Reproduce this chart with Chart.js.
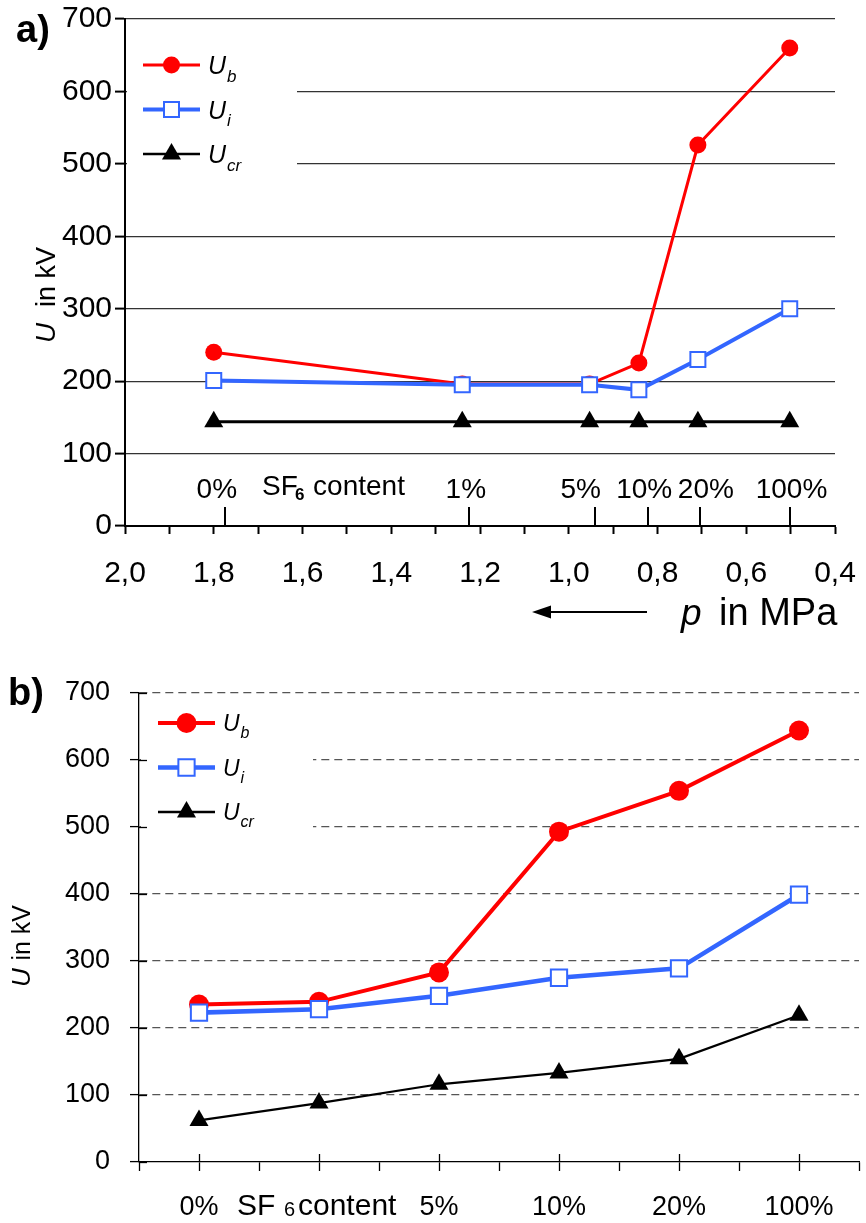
<!DOCTYPE html>
<html>
<head>
<meta charset="utf-8">
<title>Breakdown voltage vs. pressure and SF6 content</title>
<script src="https://cdn.jsdelivr.net/npm/chart.js@4.4.1/dist/chart.umd.min.js"></script>
<style>
  html, body { margin: 0; padding: 0; background: #fff; overflow: hidden; }
  canvas { display: block; }
</style>
</head>
<body>
<canvas id="chartA" width="866" height="640"></canvas>
<!-- a little wider than the page: the point overflow margin sits off-screen -->
<canvas id="chartB" width="873" height="583"></canvas>
<script>
// a) voltages over gas pressure (MPa)
const pressureA = [1.80, 1.24, 0.953, 0.842, 0.709, 0.502];
const ubA = [240, 196, 196, 225, 526, 660];
const uiA = [201, 195, 195, 188, 230, 300];
const ucrA = [144, 144, 144, 144, 144, 144];
// SF6 content markers along the pressure axis
const contentLabelsA = ['0%', '1%', '5%', '10%', '20%', '100%'];
const contentTickP = [1.775, 1.225, 0.941, 0.822, 0.705, 0.502];
const contentLabelP = [1.793, 1.232, 0.973, 0.830, 0.691, 0.498];

// b) voltages over SF6 content
const contentB = ['0%', '', '5%', '10%', '20%', '100%'];
const ubB = [235, 239, 283, 493, 554, 644];
const uiB = [223, 228, 248, 275, 289, 399];
const ucrB = [62, 88, 116, 133, 154, 219];

const yTicks = [0, 700, 100]; // min, max, step

const FONT = "'Liberation Sans', Arial, Helvetica, sans-serif";
const RED = '#ff0000';
const BLUE = '#3366ff';
const BLACK = '#000000';

function pts(xs, ys) {
  return ys.map((y, i) => ({ x: xs[i], y }));
}

// keep the plot area where the layout padding puts it
function fixBox(size) {
  return s => {
    if (s.isHorizontal()) s.height = size; else s.width = size;
    s.paddingLeft = s.paddingRight = s.paddingTop = s.paddingBottom = 0;
  };
}

function makeSets(xs, ub, ui, ucr, s) {
  return [
    { label: 'Ub', data: pts(xs, ub), borderColor: RED, backgroundColor: RED,
      borderWidth: s.ubW, pointStyle: 'circle', pointRadius: s.circR, pointBorderWidth: 0,
      pointBackgroundColor: RED, order: 1 },
    { label: 'Ui', data: pts(xs, ui), borderColor: BLUE, backgroundColor: '#fff',
      borderWidth: s.uiW, pointStyle: 'rect', pointRadius: s.rectR, pointBorderWidth: 2,
      pointBorderColor: BLUE, pointBackgroundColor: '#fff', order: 0 },
    { label: 'Ucr', data: pts(xs, ucr), borderColor: BLACK, backgroundColor: BLACK,
      borderWidth: s.ucrW, pointStyle: 'triangle', pointRadius: s.triR, pointBorderWidth: 0,
      pointBackgroundColor: BLACK, order: 2 }
  ];
}

// legend with subscripted U
function drawLegend(ctx, x0, y0, dy, len, sizeU, sizeSub, items) {
  items.forEach((it, i) => {
    const y = y0 + i * dy;
    ctx.save();
    ctx.strokeStyle = it.color;
    ctx.lineWidth = it.lw;
    ctx.beginPath();
    ctx.moveTo(x0, y);
    ctx.lineTo(x0 + len, y);
    ctx.stroke();
    ctx.fillStyle = it.fill;
    ctx.strokeStyle = it.color;
    ctx.lineWidth = it.pbw;
    Chart.helpers.drawPoint(ctx, { pointStyle: it.style, radius: it.r, borderWidth: it.pbw, rotation: 0 }, x0 + len / 2, y);
    ctx.fillStyle = '#000';
    ctx.textBaseline = 'alphabetic';
    ctx.font = `italic ${sizeU}px ${FONT}`;
    const tx = x0 + len + 8;
    ctx.fillText('U', tx, y + sizeU * 0.36);
    const w = ctx.measureText('U').width;
    ctx.font = `italic ${sizeSub}px ${FONT}`;
    ctx.fillText(it.sub, tx + w + 1, y + sizeU * 0.36 + sizeSub * 0.45);
    ctx.restore();
  });
}

function drawAxisTitle(ctx, xBase, yBottom, span, size) {
  ctx.save();
  ctx.translate(xBase, yBottom);
  ctx.rotate(-Math.PI / 2);
  ctx.fillStyle = '#000';
  ctx.textBaseline = 'alphabetic';
  ctx.font = `italic ${size + 1}px ${FONT}`;
  ctx.textAlign = 'left';
  ctx.fillText('U', 0, 0);
  ctx.font = `${size}px ${FONT}`;
  ctx.textAlign = 'right';
  ctx.fillText('in kV', span, 0);
  ctx.restore();
}

const legendItemsA = [
  { color: RED, fill: RED, lw: 3, style: 'circle', r: 8.5, pbw: 0, sub: 'b' },
  { color: BLUE, fill: '#fff', lw: 4, style: 'rect', r: 10.6, pbw: 2, sub: 'i' },
  { color: BLACK, fill: BLACK, lw: 2.5, style: 'triangle', r: 11, pbw: 0, sub: 'cr' }
];
const legendItemsB = [
  { color: RED, fill: RED, lw: 4, style: 'circle', r: 10, pbw: 0, sub: 'b' },
  { color: BLUE, fill: '#fff', lw: 4.5, style: 'rect', r: 11.5, pbw: 2, sub: 'i' },
  { color: BLACK, fill: BLACK, lw: 2.5, style: 'triangle', r: 11, pbw: 0, sub: 'cr' }
];

const decorA = {
  id: 'decorA',
  beforeDatasetsDraw(chart) {
    const ctx = chart.ctx;
    ctx.save();
    ctx.fillStyle = '#fff';
    ctx.fillRect(127, 35, 170, 140);
    ctx.restore();
  },
  afterDraw(chart) {
    const { ctx, scales: { x } } = chart;
    const axisY = chart.chartArea.bottom;
    ctx.save();
    // SF6 content ticks above the axis
    ctx.strokeStyle = '#000';
    ctx.lineWidth = 2;
    contentTickP.forEach(p => {
      const px = Math.round(x.getPixelForValue(p));
      ctx.beginPath();
      ctx.moveTo(px, axisY - 19);
      ctx.lineTo(px, axisY);
      ctx.stroke();
    });
    ctx.fillStyle = '#000';
    ctx.textBaseline = 'alphabetic';
    ctx.textAlign = 'center';
    ctx.font = `28px ${FONT}`;
    contentLabelsA.forEach((t, i) => {
      ctx.fillText(t, x.getPixelForValue(contentLabelP[i]), axisY - 28);
    });
    // "SF6 content"
    ctx.textAlign = 'left';
    const sx = x.getPixelForValue(1.691);
    ctx.font = `28px ${FONT}`;
    ctx.fillText('SF', sx, axisY - 31);
    ctx.font = `bold 17px ${FONT}`;
    ctx.fillText('6', sx + 33, axisY - 26);
    ctx.font = `28px ${FONT}`;
    ctx.fillText('content', sx + 51, axisY - 31);

    // pressure axis caption with arrow
    ctx.strokeStyle = '#000';
    ctx.lineWidth = 2;
    ctx.beginPath();
    ctx.moveTo(647, 612);
    ctx.lineTo(546, 612);
    ctx.stroke();
    ctx.beginPath();
    ctx.moveTo(532, 612);
    ctx.lineTo(551, 605.5);
    ctx.lineTo(551, 618.5);
    ctx.closePath();
    ctx.fill();
    ctx.font = `italic 37px ${FONT}`;
    ctx.fillText('p', 681, 625);
    ctx.font = `38px ${FONT}`;
    ctx.fillText('in MPa', 719, 625);

    ctx.font = `bold 38px ${FONT}`;
    ctx.fillText('a)', 16, 42);
    ctx.restore();

    drawAxisTitle(ctx, 55, 343, 96, 27);
    drawLegend(ctx, 143, 65, 44.5, 57, 25, 17, legendItemsA);
  }
};

const decorB = {
  id: 'decorB',
  beforeDatasetsDraw(chart) {
    const ctx = chart.ctx;
    ctx.save();
    ctx.fillStyle = '#fff';
    ctx.fillRect(141, 65, 172, 140);
    ctx.restore();
  },
  afterDraw(chart) {
    const { ctx, scales: { x, y } } = chart;
    const area = chart.chartArea;
    ctx.save();
    ctx.strokeStyle = '#000';
    ctx.lineWidth = 1.3;
    // tick marks reaching into the plot
    for (let v = yTicks[0]; v <= yTicks[1]; v += yTicks[2]) {
      const py = Math.round(y.getPixelForValue(v)) + 0.5;
      ctx.beginPath();
      ctx.moveTo(area.left, py);
      ctx.lineTo(area.left + 8, py);
      ctx.stroke();
    }
    contentB.forEach((_, i) => {
      const px = Math.round(x.getPixelForValue(i)) + 0.5;
      ctx.beginPath();
      ctx.moveTo(px, area.bottom);
      ctx.lineTo(px, area.bottom - 8);
      ctx.stroke();
    });
    // "SF 6 content" under the second position
    const cx = x.getPixelForValue(1);
    ctx.fillStyle = '#000';
    ctx.textBaseline = 'alphabetic';
    ctx.textAlign = 'left';
    ctx.font = `30px ${FONT}`;
    ctx.fillText('SF', cx - 82, 575);
    ctx.font = `20px ${FONT}`;
    ctx.fillText('6', cx - 35, 576);
    ctx.font = `30px ${FONT}`;
    ctx.fillText('content', cx - 21, 575);

    ctx.font = `bold 38px ${FONT}`;
    ctx.fillText('b)', 8, 65);
    ctx.restore();

    drawAxisTitle(ctx, 30, 347, 82, 25);
    drawLegend(ctx, 158, 83, 44.5, 57, 23, 16, legendItemsB);
  }
};

new Chart(document.getElementById('chartA'), {
  type: 'line',
  data: {
    datasets: makeSets(pressureA, ubA, uiA, ucrA, { ubW: 3, uiW: 4, ucrW: 3, circR: 8.5, rectR: 10.6, triR: 11 })
  },
  options: {
    responsive: false,
    animation: false,
    events: [],
    layout: { padding: { top: 19, right: 31, left: 0, bottom: 0 } },
    plugins: { legend: { display: false }, tooltip: { enabled: false } },
    scales: {
      x: {
        type: 'linear', reverse: true, min: 0.4, max: 2.0,
        ticks: {
          stepSize: 0.1, autoSkip: false, maxRotation: 0, minRotation: 0,
          callback: v => (Math.round(v * 10) % 2 === 0 ? v.toFixed(1).replace('.', ',') : ''),
          font: { family: FONT, size: 30 }, color: '#000', padding: 22
        },
        grid: { drawOnChartArea: false, tickLength: 8, tickColor: '#000', tickWidth: 2 },
        border: { color: '#000', width: 2 },
        afterFit: fixBox(114)
      },
      y: {
        min: yTicks[0], max: yTicks[1],
        ticks: { stepSize: yTicks[2], font: { family: FONT, size: 30 }, color: '#000', padding: 3 },
        grid: {
          color: c => (c.tick && c.tick.value === 0 ? 'rgba(0,0,0,0)' : '#333'),
          lineWidth: 1.2, tickLength: 10, tickColor: '#000', tickWidth: 2
        },
        border: { color: '#000', width: 2 },
        afterFit: fixBox(125)
      }
    }
  },
  plugins: [decorA]
});

new Chart(document.getElementById('chartB'), {
  type: 'line',
  data: {
    datasets: makeSets(contentB.map((_, i) => i), ubB, uiB, ucrB, { ubW: 4, uiW: 4.6, ucrW: 2.2, circR: 10, rectR: 11.5, triR: 11 })
  },
  options: {
    responsive: false,
    animation: false,
    events: [],
    layout: { padding: { top: 53, right: 14, left: 0, bottom: 0 } },
    plugins: { legend: { display: false }, tooltip: { enabled: false } },
    scales: {
      x: {
        type: 'linear', min: -0.5, max: 5.5,
        ticks: {
          stepSize: 0.5, autoSkip: false, maxRotation: 0, minRotation: 0,
          callback: v => (Math.abs(v - Math.round(v)) < 1e-6 ? contentB[Math.round(v)] : ''),
          font: { family: FONT, size: 27 }, color: '#000', padding: 20
        },
        grid: { drawOnChartArea: false, tickLength: 9, tickColor: '#000', tickWidth: 1.3 },
        border: { color: '#000', width: 1.3 },
        afterFit: fixBox(61)
      },
      y: {
        min: yTicks[0], max: yTicks[1],
        ticks: { stepSize: yTicks[2], font: { family: FONT, size: 27 }, color: '#000', padding: 20 },
        grid: {
          color: c => (c.tick && c.tick.value === 0 ? 'rgba(0,0,0,0)' : '#555'),
          lineWidth: 1.2, tickLength: 9, tickColor: '#000', tickWidth: 1.3, tickBorderDash: []
        },
        border: { color: '#000', width: 1.3, dash: [8, 5] },
        afterFit: fixBox(139)
      }
    }
  },
  plugins: [decorB]
});
</script>
</body>
</html>
